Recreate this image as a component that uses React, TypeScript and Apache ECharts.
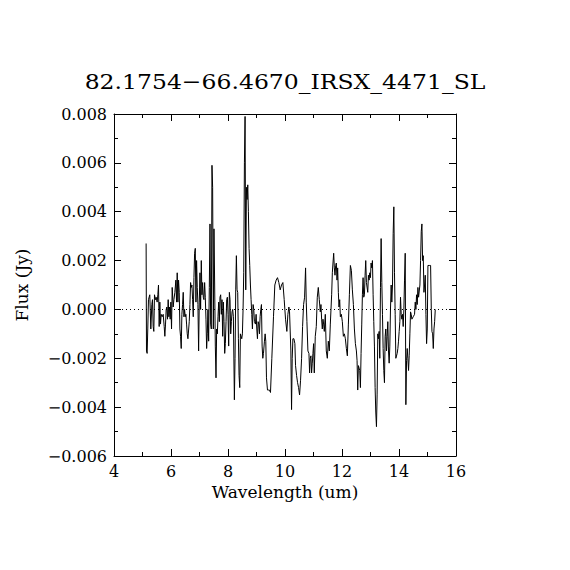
import React, { useEffect, useRef } from "react";
import * as echarts from "echarts";

const titleText = "82.1754\u221266.4670_IRSX_4471_SL";
const xAxisName = "Wavelength (um)";
const yAxisName = "Flux (Jy)";
const xRange = [4, 16];
const yRange = [-0.006, 0.008];

const wavelength = [
  5.127, 5.140, 5.163, 5.185, 5.209, 5.256, 5.292, 5.327, 5.350, 5.374,
  5.397, 5.421, 5.456, 5.479, 5.514, 5.538, 5.561, 5.585, 5.608, 5.632,
  5.655, 5.690, 5.726, 5.761, 5.784, 5.808, 5.831, 5.855, 5.878, 5.901,
  5.925, 5.948, 5.972, 5.995, 6.019, 6.042, 6.077, 6.101, 6.136, 6.171,
  6.195, 6.218, 6.242, 6.265, 6.289, 6.312, 6.335, 6.359, 6.382, 6.406,
  6.429, 6.453, 6.476, 6.500, 6.523, 6.547, 6.570, 6.594, 6.617, 6.640,
  6.664, 6.687, 6.711, 6.734, 6.758, 6.781, 6.805, 6.828, 6.852, 6.875,
  6.898, 6.922, 6.945, 6.969, 6.992, 7.016, 7.039, 7.063, 7.086, 7.110,
  7.133, 7.156, 7.180, 7.203, 7.227, 7.250, 7.274, 7.297, 7.321, 7.344,
  7.368, 7.391, 7.415, 7.438, 7.461, 7.485, 7.508, 7.532, 7.555, 7.579,
  7.602, 7.626, 7.649, 7.673, 7.696, 7.719, 7.743, 7.766, 7.790, 7.813,
  7.837, 7.860, 7.884, 7.907, 7.931, 7.954, 7.978, 8.001, 8.024, 8.048,
  8.071, 8.095, 8.118, 8.142, 8.165, 8.189, 8.224, 8.247, 8.271, 8.294,
  8.318, 8.341, 8.365, 8.388, 8.412, 8.435, 8.458, 8.482, 8.505, 8.529,
  8.552, 8.576, 8.599, 8.623, 8.646, 8.670, 8.693, 8.716, 8.740, 8.763,
  8.787, 8.810, 8.834, 8.857, 8.881, 8.904, 8.928, 8.963, 8.986, 9.010,
  9.033, 9.057, 9.080, 9.104, 9.127, 9.150, 9.174, 9.197, 9.221, 9.244,
  9.279, 9.303, 9.326, 9.350, 9.385, 9.420, 9.455, 9.491, 9.538, 9.596,
  9.643, 9.690, 9.737, 9.784, 9.831, 9.878, 9.925, 9.972, 10.019, 10.065,
  10.101, 10.136, 10.159, 10.183, 10.206, 10.230, 10.253, 10.277, 10.312, 10.347,
  10.370, 10.406, 10.441, 10.476, 10.511, 10.546, 10.582, 10.617, 10.652, 10.687,
  10.722, 10.746, 10.769, 10.804, 10.840, 10.863, 10.886, 10.910, 10.933, 10.957,
  10.980, 11.004, 11.027, 11.062, 11.098, 11.133, 11.168, 11.203, 11.238, 11.262,
  11.285, 11.309, 11.332, 11.356, 11.379, 11.414, 11.449, 11.485, 11.520, 11.555,
  11.590, 11.614, 11.637, 11.661, 11.684, 11.708, 11.731, 11.754, 11.778, 11.801,
  11.825, 11.848, 11.872, 11.895, 11.919, 11.942, 11.977, 12.012, 12.048, 12.083,
  12.118, 12.153, 12.188, 12.224, 12.259, 12.294, 12.329, 12.364, 12.400, 12.435,
  12.470, 12.505, 12.529, 12.552, 12.576, 12.599, 12.622, 12.646, 12.669, 12.693,
  12.716, 12.740, 12.763, 12.787, 12.810, 12.833, 12.857, 12.880, 12.904, 12.927,
  12.951, 12.974, 12.998, 13.021, 13.045, 13.068, 13.092, 13.115, 13.138, 13.162,
  13.185, 13.209, 13.232, 13.256, 13.279, 13.303, 13.326, 13.350, 13.373, 13.397,
  13.420, 13.443, 13.467, 13.490, 13.514, 13.537, 13.561, 13.584, 13.608, 13.631,
  13.655, 13.678, 13.701, 13.725, 13.748, 13.772, 13.795, 13.819, 13.842, 13.866,
  13.889, 13.913, 13.936, 13.960, 13.983, 14.006, 14.030, 14.053, 14.077, 14.100,
  14.124, 14.147, 14.171, 14.194, 14.218, 14.241, 14.265, 14.288, 14.311, 14.335,
  14.358, 14.382, 14.405, 14.429, 14.452, 14.476, 14.499, 14.523, 14.546, 14.570,
  14.593, 14.616, 14.640, 14.663, 14.687, 14.710, 14.734, 14.757, 14.781, 14.804,
  14.828, 14.851, 14.875, 14.898, 14.921, 14.945, 14.968, 14.992, 15.015, 15.039,
  15.062, 15.086, 15.109, 15.133, 15.156, 15.180, 15.203, 15.227, 15.250, 15.273,
];

const flux = [
  0.0027, -0.0017, -0.0018, -0.0008, 0.0004, 0.0006, -0.0008, 0.0002, 0.0004, -0.0007,
  -0.0009, 0.0006, 0.0004, 0.0005, 0.0003, 0.0006, 0.0010, -0.0007, 0.0003, -0.0006,
  -0.0002, -0.0003, -0.0002, -0.0007, -0.0011, -0.0006, 0.0000, 0.0001, -0.0004, 0.0004,
  -0.0003, 0.0001, -0.0004, 0.0003, -0.0008, 0.0009, 0.0001, 0.0004, 0.0007, 0.0012,
  0.0003, 0.0015, 0.0003, 0.0012, 0.0007, -0.0008, -0.0011, -0.0016, -0.0002, 0.0002,
  0.0007, -0.0003, 0.0000, -0.0003, -0.0002, -0.0006, -0.0010, -0.0012, -0.0012, -0.0005,
  0.0002, 0.0011, 0.0009, 0.0010, 0.0004, -0.0003, 0.0013, 0.0023, 0.0025, 0.0003,
  0.0020, 0.0009, 0.0002, -0.0017, 0.0003, 0.0015, 0.0000, 0.0020, 0.0006, 0.0011,
  0.0005, 0.0004, 0.0011, 0.0005, -0.0004, -0.0016, -0.0010, 0.0000, -0.0013, 0.0009,
  0.0035, -0.0006, -0.0008, 0.0059, 0.0050, -0.0008, 0.0033, 0.0010, -0.0015, -0.0028,
  -0.0008, -0.0010, -0.0003, 0.0003, -0.0005, 0.0005, 0.0006, -0.0002, 0.0004, -0.0011,
  0.0003, -0.0005, -0.0018, -0.0014, -0.0005, 0.0004, 0.0005, -0.0002, -0.0015, 0.0007,
  0.0004, -0.0010, -0.0005, -0.0001, 0.0000, -0.0003, -0.0037, -0.0020, 0.0008, 0.0022,
  0.0008, 0.0007, -0.0012, -0.0027, -0.0032, -0.0010, -0.0010, -0.0012, -0.0010, 0.0000,
  0.0015, 0.0060, 0.0079, 0.0008, 0.0050, 0.0045, 0.0051, 0.0040, 0.0025, 0.0018,
  0.0010, 0.0004, -0.0002, -0.0008, 0.0002, 0.0000, -0.0005, -0.0006, -0.0002, -0.0008,
  -0.0012, -0.0005, -0.0006, -0.0010, -0.0003, 0.0000, 0.0002, -0.0015, -0.0020, -0.0018,
  -0.0013, -0.0010, -0.0013, -0.0028, -0.0033, -0.0033, -0.0033, -0.0034, -0.0020, -0.0003,
  0.0010, 0.0012, 0.0013, 0.0011, 0.0008, 0.0010, 0.0011, 0.0004, -0.0004, -0.0009,
  -0.0002, 0.0001, -0.0001, -0.0001, -0.0017, -0.0041, -0.0020, -0.0012, -0.0012, -0.0014,
  -0.0023, -0.0027, -0.0030, -0.0032, -0.0035, -0.0029, -0.0020, -0.0007, 0.0002, 0.0005,
  0.0017, 0.0003, -0.0005, -0.0017, -0.0018, -0.0026, -0.0020, -0.0019, -0.0026, -0.0022,
  -0.0018, -0.0014, -0.0026, -0.0011, -0.0007, 0.0005, 0.0009, 0.0004, -0.0001, 0.0002,
  -0.0004, -0.0008, -0.0004, -0.0006, -0.0009, -0.0002, -0.0017, -0.0020, -0.0013, -0.0017,
  -0.0006, 0.0000, 0.0006, 0.0015, 0.0019, 0.0023, 0.0017, 0.0014, 0.0018, 0.0019,
  0.0012, 0.0017, 0.0007, 0.0001, 0.0004, -0.0003, -0.0002, -0.0005, -0.0011, -0.0010,
  -0.0012, -0.0016, -0.0019, -0.0006, 0.0006, 0.0018, 0.0016, 0.0008, 0.0002, -0.0008,
  -0.0014, -0.0017, -0.0021, -0.0033, -0.0023, -0.0024, -0.0025, -0.0032, -0.0018, -0.0006,
  0.0006, 0.0013, 0.0005, 0.0006, 0.0014, 0.0020, 0.0011, 0.0011, 0.0007, 0.0014,
  0.0012, 0.0015, 0.0013, 0.0019, 0.0017, 0.0020, 0.0006, -0.0005, -0.0015, -0.0032,
  -0.0042, -0.0048, -0.0035, -0.0010, -0.0012, -0.0009, -0.0020, 0.0009, 0.0029, 0.0011,
  -0.0002, -0.0016, -0.0025, -0.0030, -0.0011, -0.0008, -0.0017, -0.0011, -0.0005, -0.0017,
  -0.0022, -0.0015, 0.0000, 0.0010, 0.0003, 0.0010, 0.0031, 0.0042, 0.0015, -0.0002,
  -0.0020, -0.0020, -0.0018, -0.0016, -0.0013, -0.0009, -0.0005, 0.0005, -0.0002, -0.0004,
  -0.0002, -0.0007, 0.0000, 0.0012, 0.0023, -0.0039, -0.0021, -0.0016, -0.0020, -0.0025,
  -0.0019, -0.0010, -0.0001, -0.0002, -0.0004, -0.0004, -0.0003, -0.0003, -0.0002, 0.0003,
  0.0000, 0.0006, 0.0002, 0.0009, 0.0005, 0.0005, 0.0010, 0.0020, 0.0032, 0.0035,
  0.0020, 0.0022, 0.0007, 0.0010, 0.0014, -0.0002, -0.0014, -0.0008, 0.0018, 0.0018,
  0.0018, 0.0018, 0.0018, 0.0000, -0.0009, -0.0010, -0.0016, -0.0008, -0.0005, 0.0000,
];

const FONT = "DejaVu Serif";

export default function App() {
  const ref = useRef<HTMLDivElement>(null);
  useEffect(() => {
    if (!ref.current) return;
    const chart = echarts.init(ref.current, null, { renderer: "svg" });
    const data = wavelength.map((w, i) => [w, flux[i]]);
    const axisCommon = {
      type: "value",
      axisLine: { show: true, onZero: false, lineStyle: { color: "#000", width: 1 } },
      axisTick: { show: true, inside: true, length: 7, lineStyle: { color: "#000", width: 1 } },
      minorTick: { show: true, splitNumber: 2, length: 4, lineStyle: { color: "#000", width: 1 } },
      splitLine: { show: false },
      minorSplitLine: { show: false },
    };
    const fmtY = (v: number) => {
      const s = Math.abs(v).toFixed(3);
      return v < -1e-9 ? "\u2212" + s : s;
    };
    chart.setOption({
      animation: false,
      backgroundColor: "#fff",
      graphic: [
        {
          type: "text",
          x: 285,
          y: 81,
          scaleX: 1.12,
          style: {
            text: titleText,
            font: `21px "${FONT}"`,
            fill: "#000",
            textAlign: "center",
            textVerticalAlign: "middle",
          },
        },
      ],
      grid: { left: 114, right: 114, top: 114, bottom: 114, containLabel: false },
      xAxis: [
        {
          ...axisCommon,
          position: "bottom",
          min: xRange[0],
          max: xRange[1],
          interval: 2,
          axisLabel: { show: true, margin: 7, color: "#000", fontFamily: FONT, fontSize: 16 },
          name: xAxisName,
          nameLocation: "middle",
          nameGap: 24,
          nameTextStyle: { color: "#000", fontFamily: FONT, fontSize: 17 },
        },
        {
          ...axisCommon,
          position: "top",
          min: xRange[0],
          max: xRange[1],
          interval: 2,
          axisLabel: { show: false },
        },
      ],
      yAxis: [
        {
          ...axisCommon,
          position: "left",
          min: yRange[0],
          max: yRange[1],
          interval: 0.002,
          axisLabel: { show: true, margin: 7, color: "#000", fontFamily: FONT, fontSize: 16, formatter: fmtY },
          name: yAxisName,
          nameLocation: "middle",
          nameGap: 84,
          nameRotate: 90,
          nameTextStyle: { color: "#000", fontFamily: FONT, fontSize: 17 },
        },
        {
          ...axisCommon,
          position: "right",
          min: yRange[0],
          max: yRange[1],
          interval: 0.002,
          axisLabel: { show: false },
        },
      ],
      series: [
        {
          type: "line",
          data,
          xAxisIndex: 0,
          yAxisIndex: 0,
          showSymbol: false,
          symbol: "none",
          lineStyle: { color: "#000", width: 1 },
          silent: true,
          markLine: {
            silent: true,
            symbol: "none",
            label: { show: false },
            lineStyle: { color: "#000", width: 1, type: [1, 3] },
            data: [{ yAxis: 0 }],
          },
        },
      ],
    });
    return () => chart.dispose();
  }, []);
  return (
    <div
      ref={ref}
      style={{ position: "fixed", left: 0, top: 0, width: 570, height: 570, background: "#fff" }}
    />
  );
}
